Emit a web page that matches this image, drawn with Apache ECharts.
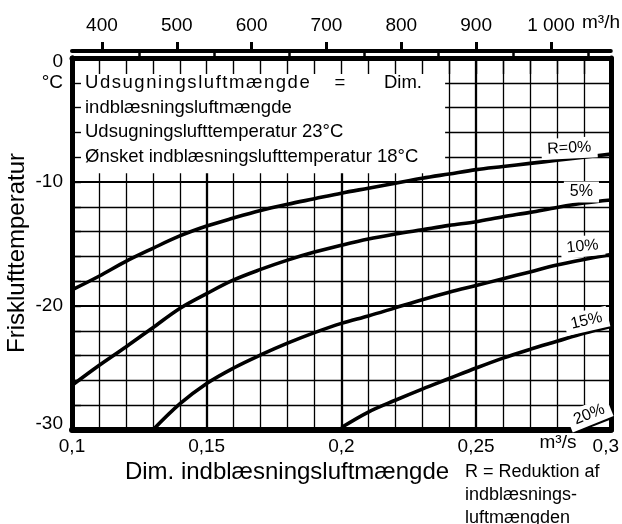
<!DOCTYPE html>
<html><head><meta charset="utf-8">
<script src="https://cdn.jsdelivr.net/npm/echarts@6/dist/echarts.min.js"></script>
<style>html,body{margin:0;padding:0;background:#fff}#c{width:622px;height:524px}</style>
</head><body><div id="c"></div>
<script>
// ---- data ----
const xFlow = [0.10,0.11,0.12,0.13,0.14,0.15,0.16,0.17,0.18,0.19,0.20,0.21,0.22,0.23,0.24,0.25,0.26,0.27,0.28,0.29,0.30];
const r0  = [-18.7,-17.6,-16.4,-15.35,-14.35,-13.55,-12.9,-12.3,-11.8,-11.35,-10.9,-10.5,-10.1,-9.7,-9.35,-9.0,-8.75,-8.5,-8.25,-8.0,-7.75];
const r5  = [-26.4,-24.8,-23.3,-21.75,-20.2,-19.0,-17.9,-17.05,-16.3,-15.65,-15.1,-14.6,-14.2,-13.85,-13.5,-13.2,-12.8,-12.45,-12.05,-11.7,-11.45];
const r10 = [null,null,null,-30,-27.9,-26.25,-25.0,-23.95,-23.0,-22.15,-21.4,-20.8,-20.15,-19.5,-18.9,-18.35,-17.8,-17.25,-16.7,-16.25,-15.85];
const r15 = [null,null,null,null,null,null,null,null,null,null,-29.8,-28.55,-27.6,-26.7,-25.85,-25.0,-24.2,-23.5,-22.85,-22.2,-21.65];
const r20 = [null,null,null,null,null,null,null,null,null,null,null,null,null,null,null,null,null,null,null,-29.85,-29.0];
const curveNames = ['R=0%','5%','10%','15%','20%'];
const bottomTickLabels = [0.1,0.15,0.2,0.25,0.3];
const leftTickLabels = [0,-10,-20,-30];
const topTicks = [400,500,600,700,800,900,1000];
const topMinorTicks = [450,550,650,750,850,950,1050];
const boxLines = ['Udsugningsluftmængde','=','Dim.','indblæsningsluftmængde','Udsugningslufttemperatur 23°C','Ønsket indblæsningslufttemperatur 18°C'];
const noteLines = ['R = Reduktion af','indblæsnings-','luftmængden'];

// ---- layout / style ----
const FONT = '"Liberation Sans", Arial, Helvetica, sans-serif';
const labelPlace = [
  {at:[0.2846,-7.27], rot:3},
  {at:[0.2891,-10.81], rot:0},
  {at:[0.2895,-15.2], rot:6},
  {at:[0.291,-21.2], rot:13},
  {at:[0.292,-28.75], rot:22}
];
function pairs(ys){ return xFlow.map((x,i)=> ys[i]==null?null:[x,ys[i]]).filter(p=>p); }
function comma(v){ return String(Math.round(v*100)/100).replace('.',','); }

const chart = echarts.init(document.getElementById('c'), null, {renderer:'canvas'});
const blk = '#000';
chart.setOption({
  animation:false,
  backgroundColor:'#fff',
  grid:{left:72, right:11, top:58, bottom:94, show:false},
  xAxis:[
    {type:'value', min:0.1, max:0.3, interval:0.05, position:'bottom', z:0,
     axisLine:{show:true,onZero:false,lineStyle:{color:blk,width:6}},
     axisTick:{show:false}, minorTick:{show:false,splitNumber:5},
     splitLine:{show:true,lineStyle:{color:blk,width:2.3}},
     minorSplitLine:{show:true,lineStyle:{color:blk,width:1.3}},
     axisLabel:{show:true, customValues:bottomTickLabels, color:blk, fontSize:19, fontFamily:FONT, margin:7,
       formatter:v=> Math.abs(v-0.3)<1e-6 ? '{r|0,3}' : comma(v),
       rich:{r:{fontSize:19, fontFamily:FONT, color:blk, padding:[0,10,0,0]}}}},
    {type:'value', min:0.1, max:0.3, interval:0.01, position:'top', z:5,
     axisLine:{show:true,onZero:false,lineStyle:{color:blk,width:5}},
     axisTick:{show:true,inside:true,length:16,lineStyle:{color:blk,width:1.4}},
     axisLabel:{show:false}, splitLine:{show:false}},
    {type:'value', min:360, max:1080, position:'top', offset:7, z:5,
     axisLine:{show:true,onZero:false,lineStyle:{color:blk,width:4}},
     axisTick:{show:true,customValues:topTicks,length:9,lineStyle:{color:blk,width:3}},
     axisLabel:{show:true,customValues:topTicks,color:blk,fontSize:19,fontFamily:FONT,margin:16,
       formatter:v=> v===1000?'1 000':String(v)},
     splitLine:{show:false}},
    {type:'value', min:360, max:1080, position:'top', offset:7, z:5,
     axisLine:{show:false},
     axisTick:{show:true,customValues:topMinorTicks,length:5,lineStyle:{color:blk,width:2.5}},
     axisLabel:{show:false}, splitLine:{show:false}}
  ],
  yAxis:[
    {type:'value', min:-30, max:0, interval:10, position:'left', z:0,
     axisLine:{show:true,onZero:false,lineStyle:{color:blk,width:5}},
     axisTick:{show:false}, minorTick:{show:false,splitNumber:5},
     splitLine:{show:true,lineStyle:{color:blk,width:2.2}},
     minorSplitLine:{show:true,lineStyle:{color:blk,width:1.3}},
     axisLabel:{show:true, customValues:leftTickLabels, color:blk, fontSize:19, fontFamily:FONT, margin:9,
       formatter:v=> v===0 ? '{t|0}' : (v===-30 ? '{b|-30}' : String(v)),
       rich:{t:{fontSize:19,fontFamily:FONT,color:blk,padding:[8,0,0,0]},
             b:{fontSize:19,fontFamily:FONT,color:blk,padding:[0,0,12,0]}}}},
    {type:'value', min:-30, max:0, interval:2, position:'left', z:5,
     axisLine:{show:true,onZero:false,lineStyle:{color:blk,width:5}},
     axisTick:{show:true,inside:true,length:9,lineStyle:{color:blk,width:1.4}},
     axisLabel:{show:false}, splitLine:{show:false}},
    {type:'value', min:-30, max:0, position:'right', z:5,
     axisLine:{show:true,onZero:false,lineStyle:{color:blk,width:5}},
     axisTick:{show:false}, axisLabel:{show:false}, splitLine:{show:false}}
  ],
  series:[r0,r5,r10,r15,r20].map((ys,i)=>({
    type:'line', name:curveNames[i], data:pairs(ys), xAxisIndex:0, yAxisIndex:0,
    smooth:0.35, showSymbol:false, symbol:'none', z:3, silent:true,
    lineStyle:{color:blk,width:3.6},
    markPoint:{symbol:'circle', symbolSize:1, silent:true, animation:false,
      itemStyle:{color:'rgba(0,0,0,0)'},
      data:[{coord:labelPlace[i].at}],
      label:{show:true, position:'inside', formatter:curveNames[i], color:blk, fontSize:16, fontFamily:FONT,
        backgroundColor:'#fff', padding:[3,6,2,6], rotate:labelPlace[i].rot}}
  }))
});

// ---- overlay: text box, titles, units ----
const pA = chart.convertToPixel({xAxisIndex:0,yAxisIndex:0},[0.1,0]);
const pB = chart.convertToPixel({xAxisIndex:0,yAxisIndex:0},[0.2385,-9.3]);
const yAt = t => chart.convertToPixel({yAxisIndex:0}, t);
const txt = (text,x,y,size,align,extra)=>Object.assign({type:'text', z:6, silent:true, x:x, y:y,
  style:{text:text, fill:blk, fontSize:size, fontFamily:FONT, align:align||'left', verticalAlign:'middle'}}, extra||{});
const FS = 18.5;
chart.setOption({graphic:[
  {type:'rect', z:1, silent:true, shape:{x:pA[0], y:pA[1], width:pB[0]-pA[0], height:pB[1]-pA[1]}, style:{fill:'#fff'}},
  txt(boxLines[0].split('').join('\u200A'), 85, yAt(-2), FS, 'left'),
  txt(boxLines[1], 340, yAt(-2), FS, 'center'),
  txt(boxLines[2], 422, yAt(-2), FS, 'right'),
  txt(boxLines[3], 85, yAt(-4), FS, 'left'),
  txt(boxLines[4], 85, yAt(-6), FS, 'left'),
  txt(boxLines[5], 85, yAt(-8), FS, 'left'),
  txt('°C', 63, yAt(-2), 19, 'right'),
  txt('m³/h', 582, 23, 19, 'left'),
  txt('m³/s', 558, 443, 19, 'center'),
  txt('Dim. indblæsningsluftmængde', 287, 472, 24, 'center'),
  txt('Frisklufttemperatur', 17, 253, 24, 'center', {rotation:Math.PI/2}),
  txt(noteLines[0], 465, 472, 18, 'left'),
  txt(noteLines[1], 465, 495, 18, 'left'),
  txt(noteLines[2], 465, 518, 18, 'left')
]});
</script></body></html>
